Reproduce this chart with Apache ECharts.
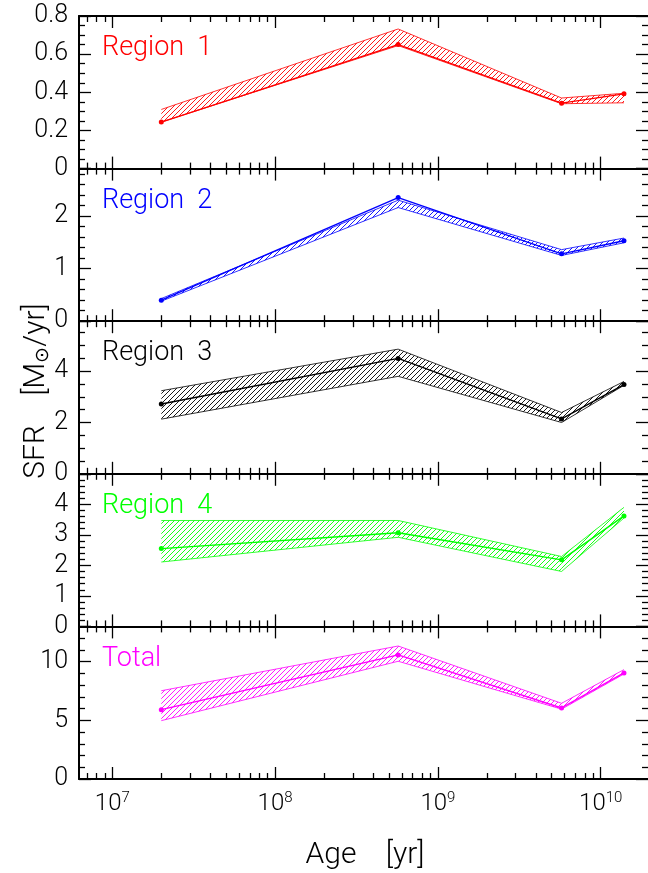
<!DOCTYPE html>
<html>
<head>
<meta charset="utf-8">
<script src="https://cdn.jsdelivr.net/npm/echarts@6/dist/echarts.min.js"></script>
<style>
html,body{margin:0;padding:0;background:#fff;}
#chart{width:648px;height:873px;}
</style>
</head>
<body>
<div id="chart"></div>
<script>
// ---- data ----
const ages = [2e7, 5.7e8, 5.75e9, 1.39e10];
const xMajorTicks = [1e7, 1e8, 1e9, 1e10];
const xMinorTicks = [7e6, 8e6, 9e6, 2e7, 3e7, 4e7, 5e7, 6e7, 7e7, 8e7, 9e7,
  2e8, 3e8, 4e8, 5e8, 6e8, 7e8, 8e8, 9e8, 2e9, 3e9, 4e9, 5e9, 6e9, 7e9, 8e9, 9e9];

const panelNames = ['Region  1', 'Region  2', 'Region  3', 'Region  4', 'Total'];
const panelColors = ['#ff0000', '#0000ff', '#000000', '#00ff00', '#ff00ff'];
const yMax = [0.8, 2.9, 5.95, 5, 13];
const yInterval = [0.2, 1, 2, 1, 5];
const yMinorSplit = [4, 5, 4, 5, 5];

const r1Mid = [0.244, 0.650, 0.343, 0.392];
const r1Up  = [0.310, 0.732, 0.370, 0.395];
const r1Lo  = [0.244, 0.645, 0.340, 0.345];

const r2Mid = [0.40, 2.35, 1.28, 1.53];
const r2Up  = [0.43, 2.30, 1.36, 1.58];
const r2Lo  = [0.38, 2.16, 1.25, 1.49];

const r3Mid = [2.72, 4.50, 2.14, 3.48];
const r3Up  = [3.24, 4.86, 2.39, 3.60];
const r3Lo  = [2.13, 3.80, 2.00, 3.45];

const r4Mid = [2.55, 3.07, 2.18, 3.62];
const r4Up  = [3.47, 3.47, 2.29, 3.90];
const r4Lo  = [2.11, 2.92, 1.80, 3.55];

const totMid = [5.91, 10.57, 6.05, 9.04];
const totUp  = [7.52, 11.33, 6.45, 9.32];
const totLo  = [4.97, 10.03, 5.95, 8.95];

const mids = [r1Mid, r2Mid, r3Mid, r4Mid, totMid];
const ups  = [r1Up, r2Up, r3Up, r4Up, totUp];
const los  = [r1Lo, r2Lo, r3Lo, r4Lo, totLo];

// ---- layout ----
const GL = 79, GW = 569, GT = 16, GH = 152.6;
const XMIN = Math.pow(10, 6.7955), XMAX = Math.pow(10, 10.2905);
const FONT = 'Roboto';

function hatch(color) {
  const s = 5;
  const c = document.createElement('canvas');
  c.width = s; c.height = s;
  const g = c.getContext('2d');
  g.strokeStyle = color; g.lineWidth = 0.9;
  g.beginPath();
  g.moveTo(0, s); g.lineTo(s, 0);
  g.moveTo(-1, 1); g.lineTo(1, -1);
  g.moveTo(s - 1, s + 1); g.lineTo(s + 1, s - 1);
  g.stroke();
  return c;
}

const grids = [], xAxes = [], yAxes = [], series = [], graphics = [];
const black = '#000';
for (let i = 0; i < 5; i++) {
  const top = GT + i * GH;
  grids.push({left: GL, top: top, width: GW, height: GH, containLabel: false, outerBoundsMode: 'none'});
  const last = i === 4;
  ['bottom', 'top'].forEach(pos => {
    xAxes.push({
      type: 'log', logBase: 10, gridIndex: i, position: pos, min: XMIN, max: XMAX,
      axisLine: {show: true, lineStyle: {color: black, width: 2}},
      axisTick: {show: true, inside: true, length: 12, customValues: xMajorTicks, lineStyle: {color: black, width: 1.3}},
      axisLabel: {
        show: last && pos === 'bottom', customValues: xMajorTicks, margin: 12,
        formatter: v => '{b|10}{s|' + Math.round(Math.log10(v)) + '}',
        rich: {
          b: {fontFamily: FONT, fontWeight: 300, fontSize: 24, color: black, lineHeight: 26},
          s: {fontFamily: FONT, fontWeight: 300, fontSize: 15, color: black, lineHeight: 16, verticalAlign: 'top'}
        }
      },
      splitLine: {show: false}
    });
    xAxes.push({
      type: 'log', logBase: 10, gridIndex: i, position: pos, min: XMIN, max: XMAX,
      axisLine: {show: false},
      axisTick: {show: true, inside: true, length: 6, customValues: xMinorTicks, lineStyle: {color: black, width: 1.3}},
      axisLabel: {show: false},
      splitLine: {show: false}
    });
  });
  ['left', 'right'].forEach(pos => {
    yAxes.push({
      type: 'value', gridIndex: i, position: pos, min: 0, max: yMax[i], interval: yInterval[i],
      axisLine: {show: pos === 'left', lineStyle: {color: black, width: 2}},
      axisTick: {show: true, inside: true, length: 12, lineStyle: {color: black, width: 1.3}},
      minorTick: {show: true, splitNumber: yMinorSplit[i], length: 6, lineStyle: {color: black, width: 1.3}},
      axisLabel: {
        show: pos === 'left', margin: 11, showMaxLabel: i === 0,
        fontFamily: FONT, fontWeight: 300, fontSize: 25, color: black
      },
      splitLine: {show: false}
    });
  });
  const col = panelColors[i];
  const xi = i * 4, yi = i * 2;
  const pat = {image: hatch(col), repeat: 'repeat'};
  // band segments: [x0, x1, lo0, up0, lo1, up1]
  const segs = [];
  for (let k = 0; k < ages.length - 1; k++) {
    segs.push([ages[k], ages[k + 1], los[i][k], ups[i][k], los[i][k + 1], ups[i][k + 1]]);
  }
  series.push({
    type: 'custom', xAxisIndex: xi, yAxisIndex: yi, silent: true, clip: true, z: 1,
    data: segs,
    encode: {x: [0, 1], y: [2, 3, 4, 5]},
    renderItem: (params, api) => {
      const p1 = api.coord([api.value(0), api.value(3)]);
      const p2 = api.coord([api.value(1), api.value(5)]);
      const p3 = api.coord([api.value(1), api.value(4)]);
      const p4 = api.coord([api.value(0), api.value(2)]);
      return {type: 'polygon', shape: {points: [p1, p2, p3, p4]}, style: {fill: pat, stroke: null}};
    }
  });
  series.push({
    type: 'line', xAxisIndex: xi, yAxisIndex: yi,
    data: ages.map((a, k) => [a, los[i][k]]),
    symbol: 'none', lineStyle: {color: col, width: 0.8}, silent: true, z: 2
  });
  series.push({
    type: 'line', xAxisIndex: xi, yAxisIndex: yi,
    data: ages.map((a, k) => [a, ups[i][k]]),
    symbol: 'none', lineStyle: {color: col, width: 0.8}, silent: true, z: 2
  });
  series.push({
    type: 'line', xAxisIndex: xi, yAxisIndex: yi,
    data: ages.map((a, k) => [a, mids[i][k]]),
    symbol: 'circle', symbolSize: 5, showAllSymbol: true,
    itemStyle: {color: col}, lineStyle: {color: col, width: 1.4}, silent: true, z: 3
  });
  graphics.push({
    type: 'text', left: 102, top: top + 19,
    style: {text: panelNames[i], fill: col, font: '300 27px ' + FONT}
  });
}

graphics.push({
  type: 'text', x: 36, y: 391, rotation: Math.PI / 2,
  style: {
    text: '{n|SFR    [M}{s|⊙}{n|/yr]}', fill: black,
    align: 'center', verticalAlign: 'middle', textAlign: 'center', textVerticalAlign: 'middle',
    rich: {
      n: {font: '300 30px ' + FONT, fill: black, lineHeight: 34},
      s: {font: '300 19px ' + FONT, fill: black, lineHeight: 10, verticalAlign: 'bottom'}
    }
  }
});
graphics.push({
  type: 'text', x: 365, y: 855,
  style: {text: 'Age    [yr]', fill: black, font: '300 30px ' + FONT,
    align: 'center', verticalAlign: 'middle', textAlign: 'center', textVerticalAlign: 'middle'}
});

const chart = echarts.init(document.getElementById('chart'), null, {renderer: 'canvas'});
chart.setOption({
  animation: false,
  backgroundColor: '#fff',
  grid: grids, xAxis: xAxes, yAxis: yAxes, series: series, graphic: graphics
});
</script>
</body>
</html>
